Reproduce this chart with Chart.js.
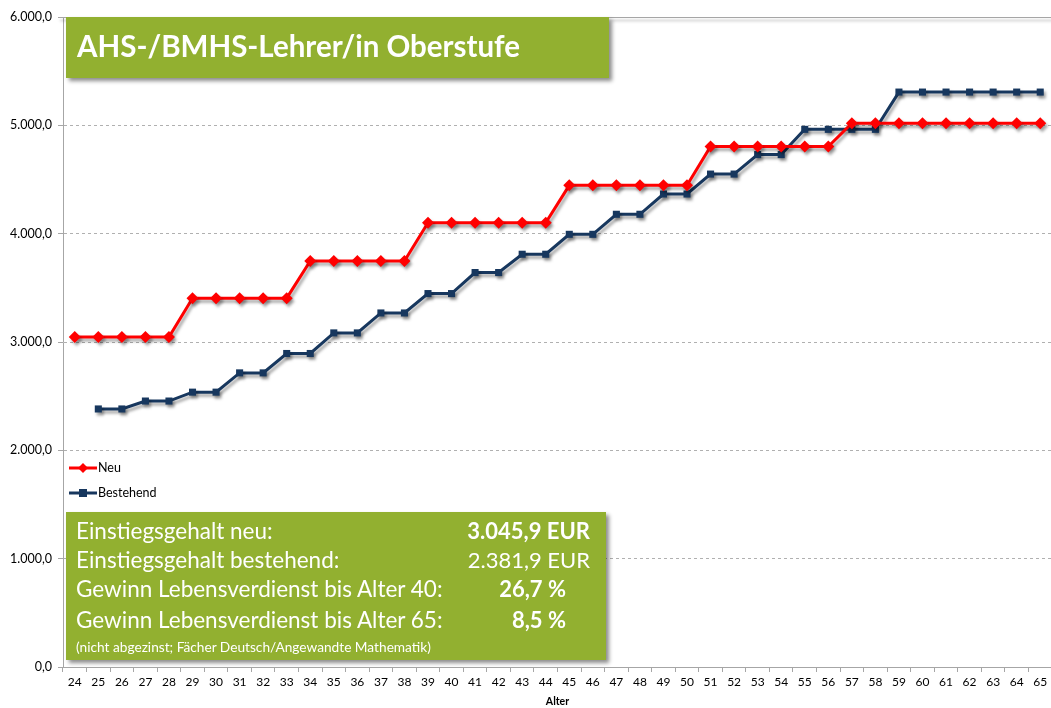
<!DOCTYPE html>
<html lang="de">
<head>
    <meta charset="UTF-8">
    <title>AHS-/BMHS-Lehrer/in Oberstufe</title>
    <script src="https://cdn.jsdelivr.net/npm/chart.js"></script>
    <style>
        html, body { margin: 0; padding: 0; background: #fff; overflow: hidden; width: 1051px; height: 708px; }
        #wrap { position: relative; width: 1058px; height: 708px; }
        #chart { position: absolute; left: 0; top: 0; }
        .greenbox {
            position: absolute;
            background: #92b030;
            box-shadow: 3px 3px 4px rgba(0,0,0,0.45);
            color: #fff;
            font-family: Lato, "Open Sans", sans-serif;
        }
        #title { left: 66px; top: 17px; width: 543px; height: 61px; }
        #title span { position: absolute; left: 11px; top: 11px; font-size: 29.5px; font-weight: bold; }
        #info { left: 66px; top: 512px; width: 540px; height: 148px; }
        .row { position: absolute; left: 10px; font-size: 22.5px; line-height: 26px; white-space: nowrap; }
        .val { position: absolute; font-size: 22px; line-height: 26px; white-space: nowrap; text-align: right; }
        .note { position: absolute; left: 10px; top: 126px; font-size: 13.7px; }
    </style>
</head>
<body>
<div id="wrap">
    <canvas id="chart" width="1058" height="708" style="width:1058px;height:708px"></canvas>

    <div id="title" class="greenbox"><span>AHS-/BMHS-Lehrer/in Oberstufe</span></div>

    <div id="info" class="greenbox">
        <div class="row" style="top:6px">Einstiegsgehalt neu:</div>
        <div class="val" style="top:6px; right:16px; font-weight:bold">3.045,9 EUR</div>
        <div class="row" style="top:35px">Einstiegsgehalt bestehend:</div>
        <div class="val" style="top:35px; right:16px">2.381,9 EUR</div>
        <div class="row" style="top:64px">Gewinn Lebensverdienst bis Alter 40:</div>
        <div class="val" style="top:64px; right:40px; font-weight:bold">26,7 %</div>
        <div class="row" style="top:95px">Gewinn Lebensverdienst bis Alter 65:</div>
        <div class="val" style="top:95px; right:40px; font-weight:bold">8,5 %</div>
        <div class="note">(nicht abgezinst; Fächer Deutsch/Angewandte Mathematik)</div>
    </div>
</div>

<script>
    // Alter (x-Achse)
    const ages = ['24','25','26','27','28','29','30','31','32','33','34','35','36','37',
                  '38','39','40','41','42','43','44','45','46','47','48','49','50','51',
                  '52','53','54','55','56','57','58','59','60','61','62','63','64','65'];

    // Gehalt neu
    const neu = [3045.9, 3045.9, 3045.9, 3045.9, 3045.9,
                 3405, 3405, 3405, 3405, 3405,
                 3748, 3748, 3748, 3748, 3748,
                 4100, 4100, 4100, 4100, 4100, 4100,
                 4446, 4446, 4446, 4446, 4446, 4446,
                 4805, 4805, 4805, 4805, 4805, 4805,
                 5020, 5020, 5020, 5020, 5020, 5020, 5020, 5020, 5020];

    // Gehalt bestehend (beginnt mit 25)
    const bestehend = [null, 2381.9, 2381.9, 2455, 2455, 2537, 2537, 2715, 2715,
                       2894, 2894, 3084, 3084, 3268, 3268, 3447, 3447, 3641, 3641,
                       3810, 3810, 3994, 3994, 4179, 4179, 4366, 4366, 4550, 4550,
                       4730, 4730, 4963, 4963, 4963, 4963,
                       5307, 5307, 5307, 5307, 5307, 5307, 5307];

    const yTicks = [0, 1000, 2000, 3000, 4000, 5000, 6000];

    const red = '#ff0000';
    const navy = '#17375e';
    const axisGray = '#a6a6a6';
    const font = 'Lato, "Open Sans", sans-serif';

    function fmt(v) {
        const s = Math.round(v).toString().replace(/\B(?=(\d{3})+(?!\d))/g, '.');
        return s + ',0';
    }

    // shadow under the lines and markers
    const shadowPlugin = {
        id: 'shadow',
        beforeDatasetsDraw(chart) {
            const ctx = chart.ctx;
            ctx.save();
            ctx.shadowColor = 'rgba(0,0,0,0.35)';
            ctx.shadowBlur = 3;
            ctx.shadowOffsetX = 2;
            ctx.shadowOffsetY = 3;
        },
        afterDatasetsDraw(chart) {
            chart.ctx.restore();
        }
    };

    // top frame line and legend inside the plot
    const extras = {
        id: 'extras',
        beforeDatasetsDraw(chart) {
            const ctx = chart.ctx, a = chart.chartArea;
            ctx.save();
            ctx.strokeStyle = axisGray;
            ctx.lineWidth = 1;
            ctx.beginPath();
            ctx.moveTo(a.left - 5, a.top + 0.5);
            ctx.lineTo(a.right, a.top + 0.5);
            ctx.stroke();
            ctx.restore();
        },
        afterDraw(chart) {
            const ctx = chart.ctx;
            const items = [
                { label: 'Neu', color: red, y: 468, shape: 'diamond' },
                { label: 'Bestehend', color: navy, y: 493, shape: 'square' }
            ];
            ctx.save();
            items.forEach(it => {
                ctx.strokeStyle = it.color;
                ctx.fillStyle = it.color;
                ctx.lineWidth = 3;
                ctx.beginPath();
                ctx.moveTo(69, it.y);
                ctx.lineTo(97, it.y);
                ctx.stroke();
                ctx.beginPath();
                if (it.shape === 'diamond') {
                    ctx.moveTo(83, it.y - 5);
                    ctx.lineTo(88, it.y);
                    ctx.lineTo(83, it.y + 5);
                    ctx.lineTo(78, it.y);
                    ctx.closePath();
                    ctx.fill();
                } else {
                    ctx.fillRect(79, it.y - 4, 8, 8);
                }
                ctx.fillStyle = '#000';
                ctx.font = '12.5px ' + font;
                ctx.textBaseline = 'middle';
                ctx.fillText(it.label, 98, it.y);
            });
            ctx.restore();
        }
    };

    new Chart(document.getElementById('chart'), {
        type: 'line',
        data: {
            labels: ages,
            datasets: [
                {
                    label: 'Neu',
                    data: neu,
                    borderColor: red,
                    backgroundColor: red,
                    borderWidth: 3,
                    pointStyle: 'rectRot',
                    pointRadius: 6,
                    pointBorderWidth: 0,
                    tension: 0
                },
                {
                    label: 'Bestehend',
                    data: bestehend,
                    borderColor: navy,
                    backgroundColor: navy,
                    borderWidth: 3,
                    pointStyle: 'rect',
                    pointRadius: 5,
                    pointBorderWidth: 0,
                    tension: 0
                }
            ]
        },
        options: {
            responsive: false,
            animation: false,
            layout: { padding: { top: 17, right: 1, left: 0, bottom: 0 } },
            plugins: {
                legend: { display: false },
                tooltip: { enabled: false }
            },
            scales: {
                x: {
                    offset: true,
                    grid: { offset: true, drawOnChartArea: false, color: axisGray, tickLength: 5 },
                    border: { color: axisGray },
                    ticks: {
                        color: '#000',
                        font: { family: font, size: 12 },
                        maxRotation: 0,
                        autoSkip: false,
                        padding: 3
                    },
                    title: {
                        display: true,
                        text: 'Alter',
                        color: '#000',
                        font: { family: font, size: 10.5, weight: 'bold' },
                        padding: { top: 1, bottom: 0 }
                    },
                    afterFit(scale) { scale.height = 41; }
                },
                y: {
                    min: 0,
                    max: 6000,
                    afterBuildTicks(scale) { scale.ticks = yTicks.map(v => ({ value: v })); },
                    grid: {
                        color: '#b0b0b0',
                        tickColor: axisGray,
                        tickLength: 5,
                        tickBorderDash: []
                    },
                    border: { color: axisGray, dash: [3, 3] },
                    ticks: {
                        color: '#000',
                        font: { family: font, size: 12.5 },
                        padding: 6,
                        callback: v => fmt(v)
                    },
                    afterFit(scale) { scale.width = 63; }
                }
            }
        },
        plugins: [shadowPlugin, extras]
    });
</script>
</body>
</html>
